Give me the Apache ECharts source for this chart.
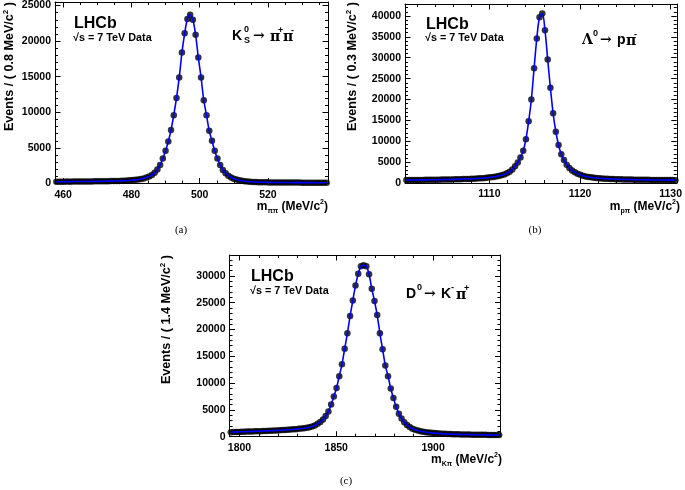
<!DOCTYPE html>
<html><head><meta charset="utf-8">
<script src="https://cdn.jsdelivr.net/npm/echarts@6/dist/echarts.min.js"></script>
<style>html,body{margin:0;padding:0;background:#fff}#c{width:685px;height:490px}</style>
</head><body><div id="c"></div>
<script>
// ---------- Panel (a): K0S -> pi+ pi-  (100 bins of 0.8 MeV) ----------
const loA = 457.6, hiA = 537.6, binA = 0.8;
const eventsA = [
  250,255,250,260,265,262,270,275,272,280,
  285,290,288,295,300,305,310,318,322,330,
  335,345,352,362,372,400,420,445,475,515,
  565,630,720,850,1000,1200,1500,1950,2600,3500,
  4600,5900,7500,9600,12000,14900,18400,21100,23100,23700,
  23000,20900,17700,14900,11700,9600,7400,6000,4600,3500,
  2600,1900,1450,1100,850,680,550,450,380,320,
  280,250,225,205,190,180,170,165,158,152,
  148,145,140,138,135,132,130,128,126,124,
  122,120,120,118,116,115,114,112,112,110];
const xTicksA = [460, 480, 500, 520];
const yTicksA = [0, 5000, 10000, 15000, 20000, 25000];
const yMaxA = 25500;

// ---------- Panel (b): Lambda0 -> p pi-  (100 bins of 0.3 MeV) ----------
const loB = 1100.68, hiB = 1130.68, binB = 0.3;
const eventsB = [
  700,710,720,720,730,740,745,750,760,770,
  780,790,800,810,820,835,850,865,880,900,
  920,940,960,985,1010,1040,1075,1110,1160,1220,
  1290,1370,1460,1570,1700,1860,2060,2330,2700,3250,
  4000,4900,6100,7700,10500,14800,20000,27500,34600,39700,
  40600,36600,29600,22800,16700,12300,9100,6900,5500,4400,
  3600,3000,2550,2200,1950,1750,1580,1450,1350,1260,
  1190,1130,1080,1040,1000,970,945,920,900,880,
  860,845,830,815,800,790,780,770,760,750,
  740,730,725,720,710,705,700,695,690,685];
const xTicksB = [1110, 1120, 1130];
const yTicksB = [0, 5000, 10000, 15000, 20000, 25000, 30000, 35000, 40000];
const yMaxB = 42870;

// ---------- Panel (c): D0 -> K- pi+  (100 bins of 1.4 MeV) ----------
const loC = 1794.84, hiC = 1934.84, binC = 1.4;
const eventsC = [
  850,870,890,900,920,940,950,970,990,1000,
  1020,1040,1060,1080,1100,1120,1140,1170,1200,1230,
  1260,1290,1330,1370,1410,1460,1520,1590,1680,1780,
  1900,2100,2400,2750,3200,3850,4700,6000,7500,9100,
  11300,13500,16400,19300,22500,25400,28200,30400,31800,32000,
  31800,30300,27600,25300,22700,19300,16300,13300,11300,9000,
  7200,5600,4300,3400,2700,2200,1800,1500,1300,1150,
  1030,930,850,780,720,670,630,590,560,530,
  510,490,470,455,440,428,416,405,395,385,
  376,368,360,353,346,340,334,328,322,316];
const xTicksC = [1800, 1850, 1900];
const yTicksC = [0, 5000, 10000, 15000, 20000, 25000, 30000];
const yMaxC = 33900;

// ---------- helpers ----------
const FF = '"Liberation Sans", Arial, Helvetica, sans-serif';
function pairs(lo, w, arr) { return arr.map((v, i) => [lo + w * (i + 0.5), v]); }
function minorList(lo, hi, step, majors) {
  const out = [];
  for (let k = Math.ceil(lo / step - 1e-9); k * step <= hi + 1e-9; k++) {
    const v = Math.round(k * step * 1000) / 1000;
    if (v > lo && v < hi && majors.indexOf(v) < 0) out.push(v);
  }
  return out;
}
const xAxes = [], yAxes = [];
function axisSet(g, xlo, xhi, xTicks, xMinorStep, ylo, yhi, yTicks, yMinorStep) {
  const xm = minorList(xlo, xhi, xMinorStep, xTicks);
  const ym = minorList(ylo, yhi, yMinorStep, yTicks);
  const base = (pos, ticks, len, line, lab) => ({
    type: 'value', gridIndex: g, position: pos,
    axisLine: { show: line, onZero: false, lineStyle: { color: '#000', width: 1 } },
    axisTick: { show: true, inside: true, length: len, customValues: ticks, lineStyle: { color: '#000', width: 1 } },
    axisLabel: lab ? { show: true, customValues: ticks, formatter: v => String(v), color: '#000', fontFamily: FF, fontWeight: 'bold', fontSize: 10.5, margin: pos === 'bottom' ? 6 : 4 } : { show: false },
    splitLine: { show: false }, minorTick: { show: false }
  });
  const xi = xAxes.length, yi = yAxes.length;
  [['bottom', xTicks, 5.5, true, true], ['bottom', xm, 3, false, false], ['top', xTicks, 5.5, true, false], ['top', xm, 3, false, false]]
    .forEach(a => xAxes.push(Object.assign(base(a[0], a[1], a[2], a[3], a[4]), { min: xlo, max: xhi })));
  [['left', yTicks, 5.5, true, true], ['left', ym, 3, false, false], ['right', yTicks, 5.5, true, false], ['right', ym, 3, false, false]]
    .forEach(a => yAxes.push(Object.assign(base(a[0], a[1], a[2], a[3], a[4]), { min: ylo, max: yhi })));
  return { xi, yi };
}
const A = axisSet(0, loA, hiA, xTicksA, 5, 0, yMaxA, yTicksA, 1000);
const B = axisSet(1, loB, hiB, xTicksB, 2, 0, yMaxB, yTicksB, 1000);
const C = axisSet(2, loC, hiC, xTicksC, 10, 0, yMaxC, yTicksC, 1000);

function seriesFor(ax, lo, w, arr) {
  const d = pairs(lo, w, arr);
  return [
    { type: 'scatter', xAxisIndex: ax.xi, yAxisIndex: ax.yi, data: d, symbol: 'circle', symbolSize: 6.5,
      itemStyle: { color: '#000' }, z: 2, silent: true, animation: false },
    { type: 'line', xAxisIndex: ax.xi, yAxisIndex: ax.yi, data: d, smooth: 0.35, showSymbol: false,
      lineStyle: { color: '#0000ff', width: 1.6 }, z: 3, silent: true, animation: false }
  ];
}

function mkRich(sz) {
  return {
    b: { font: 'bold ' + sz + 'px ' + FF, fill: '#000', lineHeight: sz + 4, verticalAlign: 'middle' },
    s: { font: 'bold ' + Math.round(sz * 0.62) + 'px ' + FF, fill: '#000', lineHeight: sz + 4, verticalAlign: 'bottom' },
    p: { font: 'bold ' + Math.round(sz * 0.62) + 'px ' + FF, fill: '#000', lineHeight: sz + 4, verticalAlign: 'top' }
  };
}
function rt(x, y, text, align, sz, rot) {
  return { type: 'text', x: x, y: y, rotation: rot || 0, silent: true,
    style: { text: text, rich: mkRich(sz), align: align, textAlign: align, verticalAlign: 'middle', textVerticalAlign: 'middle' } };
}
function tx(x, y, text, font, align) {
  return { type: 'text', x: x, y: y, silent: true,
    style: { text: text, font: font, fill: '#000', align: align || 'left', textAlign: align || 'left', verticalAlign: 'middle', textVerticalAlign: 'middle' } };
}
const big = 'bold 16px ' + FF, small = 'bold 10.8px ' + FF, dec = 'bold 14px ' + FF, dsup = 'bold 9px ' + FF;
const greek = 'bold 14px "DejaVu Serif", serif';
const cap = '11px "Liberation Serif", "DejaVu Serif", serif';
const graphic = [
  // panel a
  tx(74, 24, 'LHCb', big), tx(73, 38, '√s = 7 TeV Data', small),
  tx(232, 36, 'K', dec), tx(244, 30, '0', dsup), tx(244, 41, 'S', dsup),
  tx(253, 36, '→', greek), tx(270, 37, 'π', greek), tx(278, 31, '+', dsup), tx(283, 37, 'π', greek), tx(291, 31, '-', dsup),
  rt(10, 2, '{b|Events / ( 0.8 MeV/c}{p|2}{b| )}', 'right', 12.6, Math.PI / 2),
  rt(328, 207, '{b|m}{s|ππ}{b| (MeV/c}{p|2}{b|)}', 'right', 12),
  tx(181, 230, '(a)', cap, 'center'),
  // panel b
  tx(426, 25, 'LHCb', big), tx(425, 38, '√s = 7 TeV Data', small),
  tx(582, 40, 'Λ', greek), tx(593, 34, '0', dsup), tx(600, 40, '→', greek), tx(617, 40, 'p', dec), tx(626, 41, 'π', greek), tx(634, 35, '-', dsup),
  rt(353, 2, '{b|Events / ( 0.3 MeV/c}{p|2}{b| )}', 'right', 12.6, Math.PI / 2),
  rt(680, 207, '{b|m}{s|pπ}{b| (MeV/c}{p|2}{b|)}', 'right', 12),
  tx(535, 230, '(b)', cap, 'center'),
  // panel c
  tx(251, 277, 'LHCb', big), tx(250, 291, '√s = 7 TeV Data', small),
  tx(406, 294, 'D', dec), tx(417, 288, '0', dsup), tx(424, 294, '→', greek), tx(441, 294, 'K', dec), tx(451, 288, '-', dsup), tx(456, 295, 'π', greek), tx(464, 289, '+', dsup),
  rt(167, 255, '{b|Events / ( 1.4 MeV/c}{p|2}{b| )}', 'right', 12.6, Math.PI / 2),
  rt(502, 460, '{b|m}{s|Kπ}{b| (MeV/c}{p|2}{b|)}', 'right', 12),
  tx(346, 481, '(c)', cap, 'center')
];

const chart = echarts.init(document.getElementById('c'), null, { renderer: 'canvas' });
chart.setOption({
  animation: false,
  backgroundColor: '#fff',
  grid: [
    { left: 55, top: 2, width: 273, height: 181.5, containLabel: false },
    { left: 405, top: 4, width: 276, height: 179, containLabel: false },
    { left: 229.5, top: 255, width: 271, height: 181.7, containLabel: false }
  ],
  xAxis: xAxes,
  yAxis: yAxes,
  series: [].concat(seriesFor(A, loA, binA, eventsA), seriesFor(B, loB, binB, eventsB), seriesFor(C, loC, binC, eventsC)),
  graphic: graphic
});
</script></body></html>
